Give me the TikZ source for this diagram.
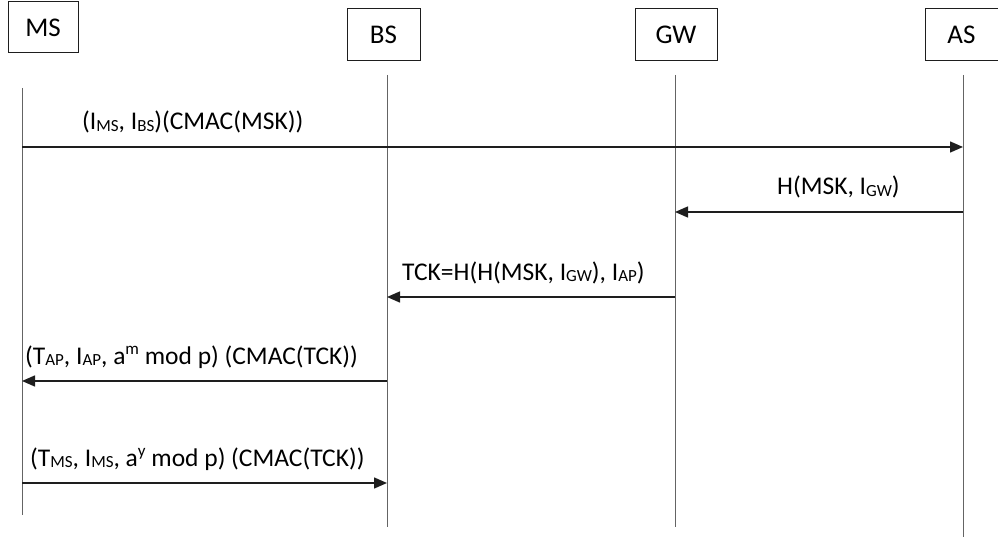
\documentclass[tikz,border=0pt]{standalone}
\usepackage{fontspec}
\setmainfont{Carlito}
\usepackage{tikz}
\usetikzlibrary{arrows.meta,positioning,calc}
\definecolor{linie}{RGB}{30,30,30}
\definecolor{grau}{RGB}{100,100,100}
\newcommand{\lsub}[1]{\raisebox{-0.15ex}{\fontsize{17}{17}\selectfont #1}}
\newcommand{\lsup}[1]{\raisebox{0.75ex}{\fontsize{17}{17}\selectfont #1}}

\begin{document}
\begin{tikzpicture}[x=1pt,y=-1pt,
actor/.style={draw=linie,line width=1pt,minimum width=73pt,minimum height=52pt,inner sep=0pt,font=\fontsize{27}{30}\selectfont},
life/.style={draw=grau,line width=1pt},
msg/.style={-{Triangle[length=13pt,width=11pt]},draw=linie,line width=1.4pt},
lbl/.style={anchor=base west,inner sep=0pt,font=\fontsize{25.5}{29}\selectfont}
]
\useasboundingbox (0,0) rectangle (998,537);
% Teilnehmer
\node[actor,minimum width=70pt,minimum height=51pt] (ms) at (43,27.5) {MS};
\node[actor] (bs) at (383.5,35) {BS};
\node[actor,minimum width=82pt] (gw) at (676,35) {GW};
\node[actor] (as) at (961.5,35) {AS};
% Lebenslinien
\coordinate (msT) at (22,88);   \coordinate (msB) at (22,515);
\coordinate (bsT) at (387,75);  \coordinate (bsB) at (387,527);
\coordinate (gwT) at (675,75);  \coordinate (gwB) at (675,527);
\coordinate (asT) at (963,75);  \coordinate (asB) at (963,537);
\draw[life] (msT) -- (msB);
\draw[life] (bsT) -- (bsB);
\draw[life] (gwT) -- (gwB);
\draw[life] (asT) -- (asB);
% Nachrichten
\draw[msg] (msT |- 0,147) -- (asT |- 0,147);
\node[lbl] (l1) at (82,130) {(I\lsub{MS}, I\lsub{BS})(CMAC(MSK))};
\draw[msg] (asT |- 0,212) -- (gwT |- 0,212);
\node[lbl] (l2) at (777,195) {H(MSK, I\lsub{GW})};
\draw[msg] (gwT |- 0,297) -- (bsT |- 0,297);
\node[lbl] (l3) at (402,280) {TCK=H(H(MSK, I\lsub{GW}), I\lsub{AP})};
\draw[msg] (bsT |- 0,381) -- (msT |- 0,381);
\node[lbl] (l4) at (25,364) {(T\lsub{AP}, I\lsub{AP}, a\lsup{m} mod p) (CMAC(TCK))};
\draw[msg] (msT |- 0,483) -- (bsT |- 0,483);
\node[lbl] (l5) at (30,466) {(T\lsub{MS}, I\lsub{MS}, a\lsup{y} mod p) (CMAC(TCK))};
\end{tikzpicture}
\end{document}
